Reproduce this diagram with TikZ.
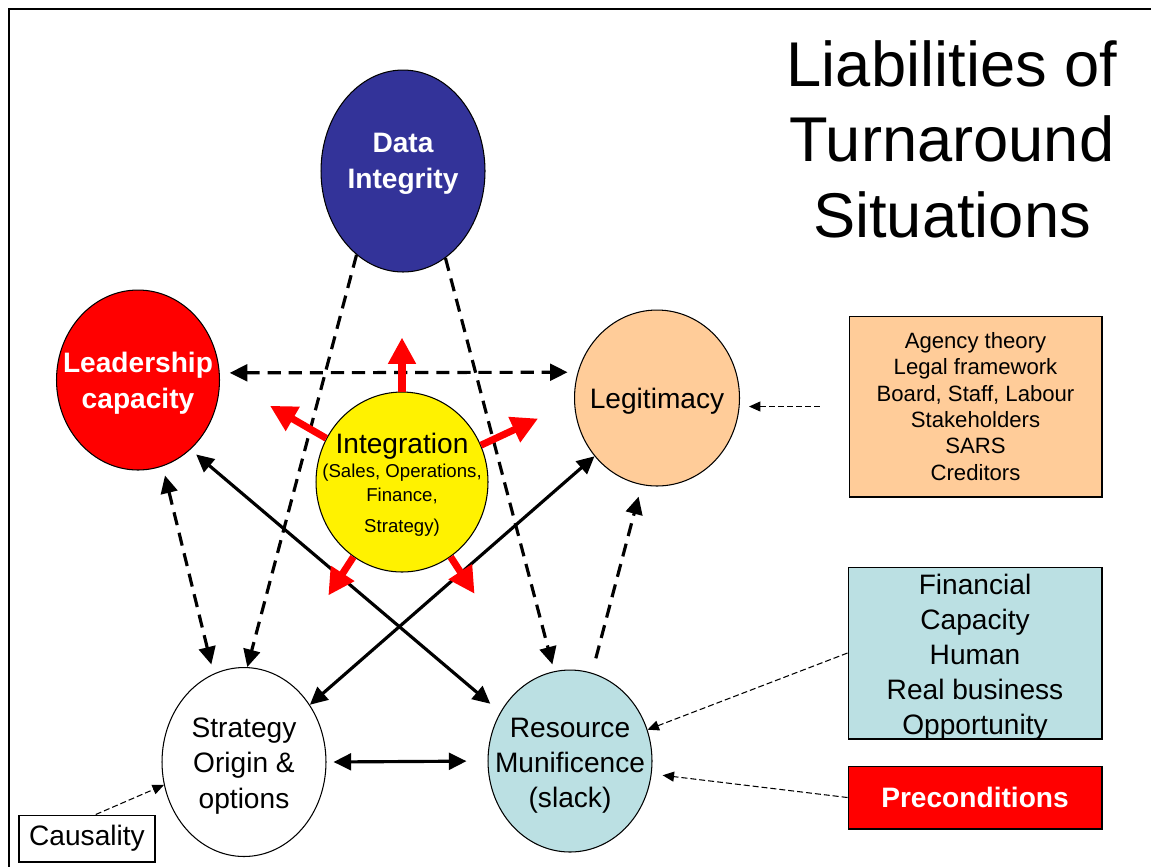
\documentclass[tikz,border=0pt]{standalone}
\usepackage{fontspec}
\setmainfont{Liberation Sans}
\usetikzlibrary{shapes,arrows,arrows.meta}

\definecolor{navy}{RGB}{51,51,153}
\definecolor{peach}{RGB}{255,204,153}
\definecolor{paleblue}{RGB}{187,224,227}

\begin{document}
\begin{tikzpicture}
  [x=0.02cm,y=-0.02cm,
   every node/.style={align=center,font=\fontsize{16}{20}\selectfont},
   bubble/.style={ellipse,draw,line width=0.6pt,inner sep=0pt},
   box/.style={draw,line width=0.6pt,inner sep=0pt},
   bold/.style={text=white,font=\bfseries\fontsize{16}{20.4}\selectfont},
   heavy/.style={line width=1.8pt,{Triangle[length=10pt,width=9.5pt]}-{Triangle[length=10pt,width=9.5pt]}},
   heavydash/.style={heavy,dash pattern=on 7.5pt off 4.5pt},
   onedash/.style={line width=1.8pt,dash pattern=on 7.5pt off 4.5pt,-{Triangle[length=10pt,width=9.5pt]}},
   pointer/.style={line width=0.6pt,dash pattern=on 3.4pt off 1.7pt,-{Triangle[length=6.5pt,width=5.7pt]}},
   spoke/.style={line width=4pt,red,-{Triangle[length=15pt,width=15pt]}}]

  \useasboundingbox (0,0) rectangle (1151,867);
  \draw[line width=1.2pt] (1151,9) -- (9,9) -- (9,867);

  \node (title) at (952,139) [font=\fontsize{36}{43}\selectfont] {Liabilities of\\Turnaround\\Situations};

  \node[bubble,fill=navy,minimum width=3.28cm,minimum height=4.04cm] (data) at (403,171) {};
  \node[bubble,fill=red,minimum width=3.26cm,minimum height=3.6cm] (lead) at (138,380) {};
  \node[bubble,fill=peach,minimum width=3.3cm,minimum height=3.52cm] (legit) at (657,398) {};
  \node[bubble,fill=yellow,minimum width=3.44cm,minimum height=3.6cm] (integ) at (402,482) {};
  \node[bubble,fill=white,minimum width=3.28cm,minimum height=3.78cm] (strat) at (244,762) {};
  \node[bubble,fill=paleblue,minimum width=3.28cm,minimum height=3.64cm] (res) at (570,761) {};

  \node[bold] (data-t) at (403,164) {Data\\Integrity};
  \node[bold] (lead-t) at (138,383) {Leadership\\capacity};
  \node (legit-t) at (657,401) {Legitimacy};
  \node[font=\fontsize{10.6}{13.6}\selectfont] (integ-t) at (402,485)
    {{\fontsize{16}{19}\selectfont Integration}\\(Sales, Operations,\\Finance,\\[4pt]Strategy)};
  \node (strat-t) at (244,766) {Strategy\\Origin \&\\options};
  \node (res-t) at (570,766) {Resource\\Munificence\\(slack)};

  \node[box,fill=peach,minimum width=5.06cm,minimum height=3.62cm,font=\fontsize{12.6}{15}\selectfont] (agency) at (975.5,406.5)
    {Agency theory\\Legal framework\\Board, Staff, Labour\\Stakeholders\\SARS\\Creditors};
  \node[box,fill=paleblue,minimum width=5.08cm,minimum height=3.44cm] (fin) at (975,653) {};
  \node (fin-t) at (975,657) {Financial\\Capacity\\Human\\Real business\\Opportunity};
  \node[box,fill=red,bold,minimum width=5.08cm,minimum height=1.26cm] (precond) at (975,797.5) {Preconditions};
  \node[box,fill=white,minimum width=2.72cm,minimum height=0.94cm] (caus) at (87,838.5) {Causality};

  \draw[heavydash,shorten <=0.2cm,shorten >=0.2cm] (lead.5) -- (legit.162);
  \draw[heavydash,shorten <=0.19cm,shorten >=0.19cm] (lead.286) -- (strat.109);
  \draw[onedash] (data.241) -- (strat.88);
  \draw[onedash,shorten >=0.14cm] (data.296) -- (res.100);
  \draw[onedash,shorten <=0.3cm,shorten >=0.24cm] (res.76) -- (legit.260);

  \draw[heavy,shorten <=0.15cm,shorten >=0.26cm] (lead.307) -- (res.145);
  \draw[heavy] (legit.223) -- (strat.41);
  \draw[heavy,shorten <=0.14cm,shorten >=0.42cm] (strat.east) -- (res.west);

  \foreach \ang/\len in {90/54,150/65,25/63,237/46,303/44}
    \draw[spoke] (integ.\ang) -- ++(\ang:\len*0.02cm);

  \draw[pointer,shorten <=0.58cm,shorten >=0.18cm] (agency.west) -- (legit.east |- agency.west);
  \draw[pointer] (fin.west) -- (res.22);
  \draw[pointer,shorten >=0.22cm] (precond.west) -- (res.351);
  \draw[pointer] (caus.70) -- (strat.196);

\end{tikzpicture}
\end{document}
